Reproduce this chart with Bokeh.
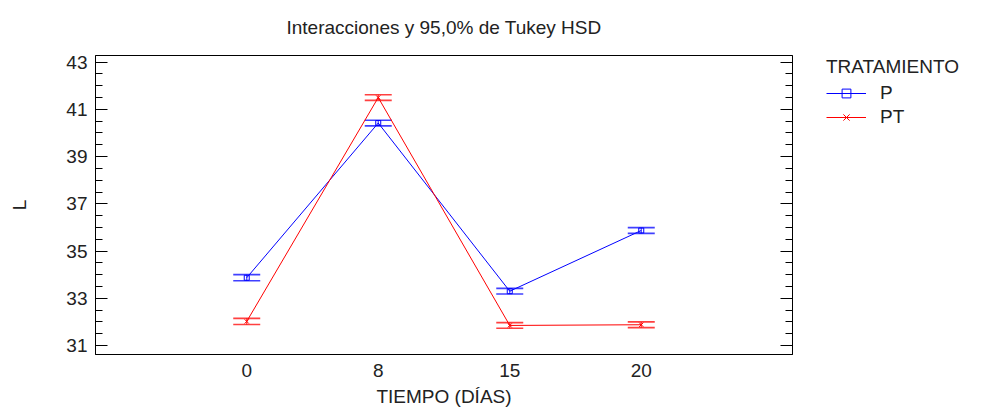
from bokeh.plotting import figure
from bokeh.layouts import row
from bokeh.models import (ColumnDataSource, Range1d, FixedTicker, LinearAxis,
                          Whisker, TeeHead, Legend, LegendItem)
from bokeh.embed import file_html
from bokeh.resources import INLINE

# Medias de L por tiempo y tratamiento, con semiamplitud del intervalo HSD de Tukey
TIEMPO = ["0", "8", "15", "20"]
P_MEDIA = [33.87, 40.42, 33.30, 35.87]
PT_MEDIA = [32.02, 41.50, 31.85, 31.88]
P_HSD = [0.13, 0.12, 0.12, 0.12]
PT_HSD = [0.13, 0.12, 0.12, 0.12]
Y_TICKS = [31, 33, 35, 37, 39, 41, 43]

FONT = "Liberation Sans"
TEXTO = "#222222"
AZUL = "#0000FF"
ROJO = "#FF0000"

x = list(range(len(TIEMPO)))

p = figure(width=800, height=412,
           x_range=Range1d(-1.15, 4.15), y_range=Range1d(30.62, 43.28),
           output_backend="svg", toolbar_location=None,
           min_border_left=95, min_border_right=8,
           min_border_top=55, min_border_bottom=58,
           title="Interacciones y 95,0% de Tukey HSD")

p.title.align = "center"
p.title.vertical_align = "top"
p.title.standoff = 32
p.title.text_font = FONT
p.title.text_font_size = "19px"
p.title.text_font_style = "normal"
p.title.text_color = TEXTO

p.xgrid.visible = False
p.ygrid.visible = False
p.outline_line_color = "black"
p.outline_line_width = 1
p.background_fill_color = "white"
p.border_fill_color = "white"

minor = [31 + 0.5 * i for i in range(25)]

# eje Y izquierdo
ya = p.yaxis[0]
ya.ticker = FixedTicker(ticks=Y_TICKS, minor_ticks=minor)
ya.major_tick_in = 12
ya.major_tick_out = 0
ya.minor_tick_in = 7
ya.minor_tick_out = 0
ya.major_label_standoff = 8
ya.major_label_text_font = FONT
ya.major_label_text_font_size = "19px"
ya.major_label_text_color = TEXTO
ya.axis_label = "L"
ya.axis_label_text_font = FONT
ya.axis_label_text_font_size = "19px"
ya.axis_label_text_font_style = "normal"
ya.axis_label_text_color = TEXTO
ya.axis_label_standoff = 33

# eje Y derecho, solo marcas
yr = LinearAxis(ticker=FixedTicker(ticks=Y_TICKS, minor_ticks=minor),
                major_tick_in=12, major_tick_out=0,
                minor_tick_in=7, minor_tick_out=0,
                major_label_standoff=0,
                major_label_overrides={t: "" for t in Y_TICKS},
                major_label_text_color=None)
p.add_layout(yr, "right")

# eje X categórico
xa = p.xaxis[0]
xa.ticker = FixedTicker(ticks=x)
xa.major_label_overrides = {i: t for i, t in enumerate(TIEMPO)}
xa.major_tick_in = 0
xa.major_tick_out = 0
xa.minor_tick_in = 0
xa.minor_tick_out = 0
xa.major_label_standoff = 9
xa.major_label_text_font = FONT
xa.major_label_text_font_size = "19px"
xa.major_label_text_color = TEXTO
xa.axis_label = "TIEMPO (DÍAS)"
xa.axis_label_text_font = FONT
xa.axis_label_text_font_size = "19px"
xa.axis_label_text_font_style = "normal"
xa.axis_label_text_color = TEXTO
xa.axis_label_standoff = 6

src_p = ColumnDataSource(dict(x=x, y=P_MEDIA,
                              lo=[m - h for m, h in zip(P_MEDIA, P_HSD)],
                              hi=[m + h for m, h in zip(P_MEDIA, P_HSD)]))
src_pt = ColumnDataSource(dict(x=x, y=PT_MEDIA,
                               lo=[m - h for m, h in zip(PT_MEDIA, PT_HSD)],
                               hi=[m + h for m, h in zip(PT_MEDIA, PT_HSD)]))


def intervalo(src, color):
    w = Whisker(base="x", upper="hi", lower="lo", source=src,
                line_color=color, line_width=1.2, line_alpha=0.75,
                upper_head=TeeHead(size=27, line_color=color, line_width=1.6, line_alpha=0.75),
                lower_head=TeeHead(size=27, line_color=color, line_width=1.6, line_alpha=0.75))
    p.add_layout(w)


intervalo(src_p, AZUL)
intervalo(src_pt, ROJO)


def serie(fig, src, color, marker, size, **kw):
    ln = fig.line("x", "y", source=src, line_color=color, line_width=1,
                  line_alpha=1.0, **kw)
    mk = fig.scatter("x", "y", source=src, marker=marker, size=size,
                     fill_color=color, fill_alpha=0.0,
                     line_color=color, line_width=1, line_alpha=1.0, **kw)
    return [ln, mk]


serie(p, src_p, AZUL, "square", 5)
serie(p, src_pt, ROJO, "x", 6)

# panel de leyenda a la derecha del gráfico
q = figure(width=185, height=412, x_range=Range1d(0, 1), y_range=Range1d(0, 1),
           output_backend="svg", toolbar_location=None,
           min_border_left=0, min_border_right=0,
           min_border_top=0, min_border_bottom=0,
           x_axis_location=None, y_axis_location=None)
q.xgrid.visible = False
q.ygrid.visible = False
q.outline_line_color = None
q.border_fill_color = "white"

leg_pt = serie(q, src_pt, "red", "x", 6, visible=False)
leg_p = serie(q, src_p, AZUL, "square", 5, visible=False)

estilo = dict(glyph_width=40, glyph_height=22, label_height=22,
              label_standoff=14, spacing=2, padding=0, margin=0,
              border_line_color=None, background_fill_color=None,
              label_text_font=FONT, label_text_font_size="19px",
              label_text_color=TEXTO)

# segundo nivel (se dibuja primero)
q.add_layout(Legend(items=[LegendItem(label="PT", renderers=leg_pt)],
                    location=(26, 226), **estilo))
# título del factor y primer nivel
q.add_layout(Legend(items=[LegendItem(label="P", renderers=leg_p)],
                    location=(26, 250),
                    title="TRATAMIENTO", title_standoff=4,
                    title_text_font=FONT, title_text_font_size="19px",
                    title_text_font_style="normal", title_text_color=TEXTO,
                    **estilo))

open("out.html", "w").write(file_html(row(p, q), INLINE))
